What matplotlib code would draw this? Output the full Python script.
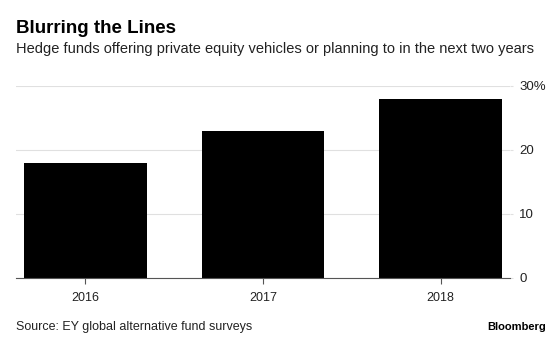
import matplotlib.pyplot as plt
import matplotlib.ticker as mticker

plt.rcParams['font.family'] = ['Liberation Sans', 'DejaVu Sans']

years = ["2016", "2017", "2018"]
share = [18, 23, 28]
ticks = [0, 10, 20, 30]

W, H = 560, 339
fig = plt.figure(figsize=(W / 100, H / 100), dpi=100)
# axes box in pixel terms: left 16, right 510, top 86, bottom 278
ax = fig.add_axes([16 / W, 1 - 278 / H, 494 / W, 192 / H])

ax.bar(range(len(years)), share, width=0.69, color="black", zorder=2)
ax.set_xlim(-0.39, 2.39)
ax.set_ylim(0, 30)
ax.set_xticks(range(len(years)))
ax.set_xticklabels(years)
ax.set_yticks(ticks)
ax.yaxis.set_major_formatter(mticker.FuncFormatter(lambda v, p: "30%" if v == 30 else f"{v:.0f}"))
ax.yaxis.tick_right()
ax.grid(axis="y", color="#e0e0e0", linewidth=0.8, zorder=0)
for s in ["top", "left", "right"]:
    ax.spines[s].set_visible(False)
ax.spines["bottom"].set_color("#555555")
ax.spines["bottom"].set_linewidth(0.8)
ax.tick_params(axis="y", length=2, width=0.8, color="#e0e0e0", pad=4.5, labelsize=9.5, labelcolor="#222222")
ax.tick_params(axis="x", length=4, width=0.8, color="#555555", pad=6, labelsize=9, labelcolor="#222222")

fig.text(16 / W, 1 - 33 / H, "Blurring the Lines", fontsize=13.5, fontweight="bold", va="baseline")
fig.text(16 / W, 1 - 53 / H, "Hedge funds offering private equity vehicles or planning to in the next two years",
         fontsize=10.5, va="baseline", color="#222222")
fig.text(16 / W, 1 - 330 / H, "Source: EY global alternative fund surveys", fontsize=9, va="baseline", color="#222222")
fig.text(546 / W, 1 - 330 / H, "Bloomberg", fontsize=8, fontweight="bold", va="baseline", ha="right")

plt.savefig("out.png", dpi=100)
